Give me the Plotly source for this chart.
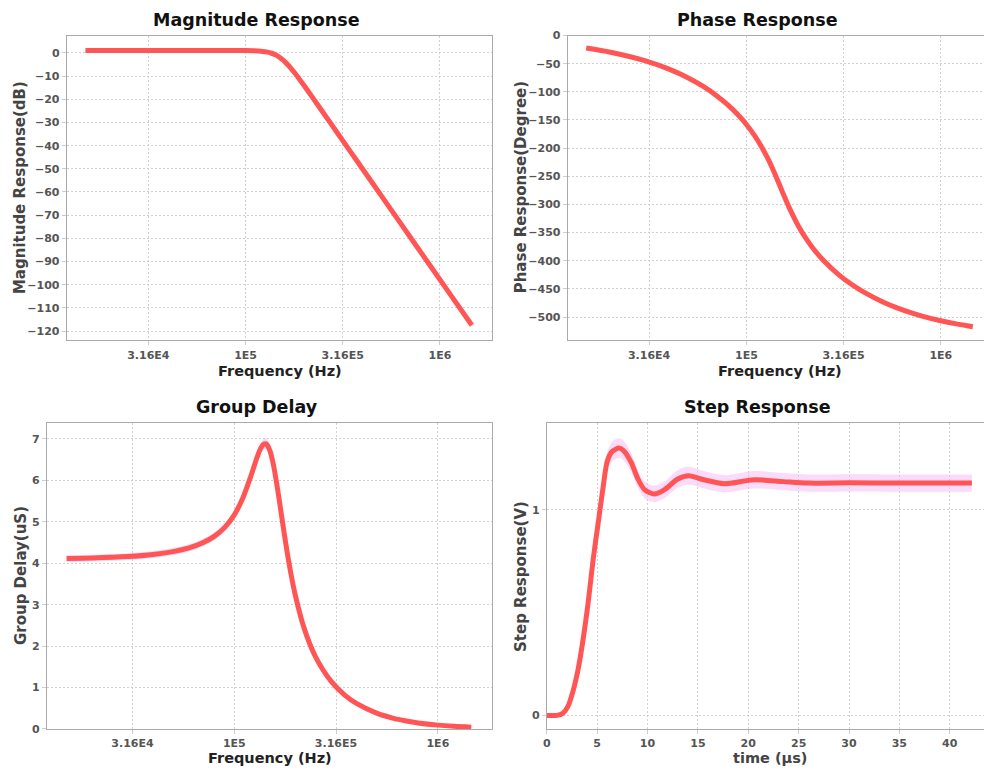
import plotly.graph_objects as go

# ---------------- data ----------------
freq_hz = [15000, 20000, 30000, 40000, 50000, 60000, 70000, 80000, 90000, 100000,
           110000, 120000, 130000, 135000, 140000, 142500, 145000, 150000, 155000,
           160000, 165000, 170000, 180000, 190000, 200000, 220000, 250000, 300000,
           350000, 400000, 500000, 600000, 700000, 800000, 1000000, 1200000, 1460000]

magnitude_db = [1.06, 1.06, 1.06, 1.06, 1.06, 1.06, 1.06, 1.06, 1.05, 1.03,
                0.96, 0.77, 0.34, -0.02, -0.51, -0.82, -1.16, -1.95, -2.89,
                -3.95, -5.11, -6.34, -8.90, -11.51, -14.07, -18.94, -25.57, -35.06,
                -43.10, -50.06, -61.69, -71.19, -79.22, -86.18, -97.81, -107.31, -117.5]

phase_deg = [-22.16, -29.59, -44.50, -59.56, -74.84, -90.42, -106.37, -122.81, -139.96, -157.99,
             -177.30, -198.23, -221.03, -233.08, -245.39, -251.59, -257.78, -270.0, -281.82,
             -293.06, -303.58, -313.33, -330.59, -345.19, -357.64, -377.74, -400.04, -425.48,
             -442.79, -455.46, -472.83, -484.22, -492.29, -498.31, -506.71, -512.28, -517.23]

group_delay_us = [4.114, 4.126, 4.161, 4.212, 4.282, 4.373, 4.495, 4.655, 4.872, 5.169,
                  5.570, 6.072, 6.587, 6.780, 6.880, 6.885, 6.857, 6.699, 6.419,
                  6.051, 5.635, 5.206, 4.402, 3.732, 3.199, 2.441, 1.754, 1.142,
                  0.812, 0.610, 0.382, 0.262, 0.192, 0.146, 0.093, 0.064, 0.043]

step_time_us = [0, 1.0, 1.6, 2.1, 2.6, 3.1, 3.6, 4.1, 4.6, 5.1, 5.6, 6.0, 6.5, 7.2, 7.7,
                8.4, 9.0, 9.7, 10.7, 11.7, 13.0, 14.1, 15.6, 17.6, 20.6, 23.5, 26.0,
                30.0, 35.0, 42.2]
step_v = [0.0, 0.0, 0.011, 0.044, 0.117, 0.222, 0.368, 0.546, 0.757, 0.935, 1.113, 1.235,
          1.284, 1.300, 1.284, 1.228, 1.155, 1.098, 1.077, 1.098, 1.150, 1.166, 1.146,
          1.127, 1.146, 1.137, 1.130, 1.131, 1.130, 1.130]

freq_tick_vals = [31600, 100000, 316000, 1000000]
freq_tick_text = ["3.16E4", "1E5", "3.16E5", "1E6"]

# ---------------- styling ----------------
W, H = 984, 771
FONT = "DejaVu Sans"
LINE = "#ff5555"
STEP_BAND = 0.037
GD_BAND = 0.02
# vertical screen calibration (observed capture scaling)
V_SCALE = 1.0163
V_SHIFT = -5.5


def px(x):
    return x / W


def py(y):
    return 1 - (y * V_SCALE + V_SHIFT) / H


fig = go.Figure()


def add_band(x, y, frac, axis_x, axis_y, color):
    lo = [v * (1 - frac) for v in y]
    hi = [v * (1 + frac) for v in y]
    fig.add_trace(go.Scatter(x=x, y=lo, mode="lines", line=dict(width=0, shape="spline"),
                             xaxis=axis_x, yaxis=axis_y, showlegend=False, hoverinfo="skip"))
    fig.add_trace(go.Scatter(x=x, y=hi, mode="lines", line=dict(width=0, shape="spline"),
                             fill="tonexty", fillcolor=color,
                             xaxis=axis_x, yaxis=axis_y, showlegend=False, hoverinfo="skip"))


def add_line(x, y, axis_x, axis_y):
    fig.add_trace(go.Scatter(x=x, y=y, mode="lines",
                             line=dict(color=LINE, width=5, shape="spline", smoothing=0.8),
                             xaxis=axis_x, yaxis=axis_y, showlegend=False))


add_line(freq_hz, magnitude_db, "x", "y")
add_line(freq_hz, phase_deg, "x2", "y2")
add_band(freq_hz, group_delay_us, GD_BAND, "x3", "y3", "rgba(225,190,250,0.5)")
add_line(freq_hz, group_delay_us, "x3", "y3")
add_band(step_time_us, step_v, STEP_BAND, "x4", "y4", "rgba(245,190,245,0.55)")
add_line(step_time_us, step_v, "x4", "y4")

tickfont = dict(family=FONT, size=11, color="#555555", weight="bold")
common = dict(showline=True, linecolor="#aaaaaa", linewidth=1, showgrid=True,
              gridcolor="#d0d0d0", griddash="2px,2px", gridwidth=1, ticks="outside",
              ticklen=4, tickcolor="#cccccc", tickfont=tickfont, zeroline=False)

freq_axis = dict(type="log", tickvals=freq_tick_vals, ticktext=freq_tick_text, **common)

fig.update_layout(
    width=W, height=H,
    margin=dict(l=0, r=0, t=0, b=0),
    paper_bgcolor="white", plot_bgcolor="white",
    showlegend=False,
    xaxis=dict(domain=[px(63), px(490)], range=[4.08, 6.268], anchor="y", mirror=True, **freq_axis),
    yaxis=dict(domain=[py(340), py(35)], range=[-124, 7.5], tick0=0, dtick=10, anchor="x",
               mirror=True, **common),
    xaxis2=dict(domain=[px(566), 1.0], range=[4.081, 6.222], anchor="y2", mirror=True, **freq_axis),
    yaxis2=dict(domain=[py(340), py(35)], range=[-541.4, 0], tick0=0, dtick=50, anchor="x2",
                mirror=False, **common),
    xaxis3=dict(domain=[px(43), px(490)], range=[4.079, 6.266], anchor="y3", mirror=True, **freq_axis),
    yaxis3=dict(domain=[py(729), py(423)], range=[0, 7.38], tick0=0, dtick=1, anchor="x3",
                mirror=True, **common),
    xaxis4=dict(domain=[px(545), 1.0], range=[0, 43.4], tick0=0, dtick=5, anchor="y4",
                mirror=True, **common),
    yaxis4=dict(domain=[py(729), py(423)], range=[-0.066, 1.421], tickvals=[0, 1], anchor="x4",
                mirror=False, **common),
)


# titles & axis titles as annotations (pixel-placed)
def label(text, x, y, size, color, angle=0):
    fig.add_annotation(text=text, x=px(x), y=py(y), xref="paper", yref="paper",
                       showarrow=False, xanchor="center", yanchor="middle", textangle=angle,
                       font=dict(family=FONT, size=size, color=color, weight="bold"))


label("Magnitude Response", 254, 19, 17.5, "#111111")
label("Phase Response", 756.7, 19, 17.5, "#111111")
label("Group Delay", 254, 407, 17.5, "#111111")
label("Step Response", 756.7, 407, 17.5, "#111111")

label("Frequency (Hz)", 276.7, 370.5, 14.5, "#222222")
label("Frequency (Hz)", 779, 370.5, 14.5, "#222222")
label("Frequency (Hz)", 266.7, 758.3, 14.5, "#222222")
label("time (µs)", 768.7, 758.3, 14.5, "#444444")

label("Magnitude Response(dB)", 16.7, 187, 15, "#444444", -90)
label("Phase Response(Degree)", 519.3, 186.7, 15, "#444444", -90)
label("Group Delay(uS)", 17.3, 575.7, 15, "#444444", -90)
label("Step Response(V)", 519.3, 576.7, 15, "#444444", -90)

fig.write_html(
    "out.html",
    config={"displayModeBar": False},
    post_script=(
        "document.documentElement.style.overflow='hidden';"
        "document.body.style.margin='0px';document.body.style.overflow='hidden';"
        "var d=document.getElementById('{plot_id}');"
        "d.style.position='fixed';d.style.top='0px';d.style.left='0px';"
    ),
)
